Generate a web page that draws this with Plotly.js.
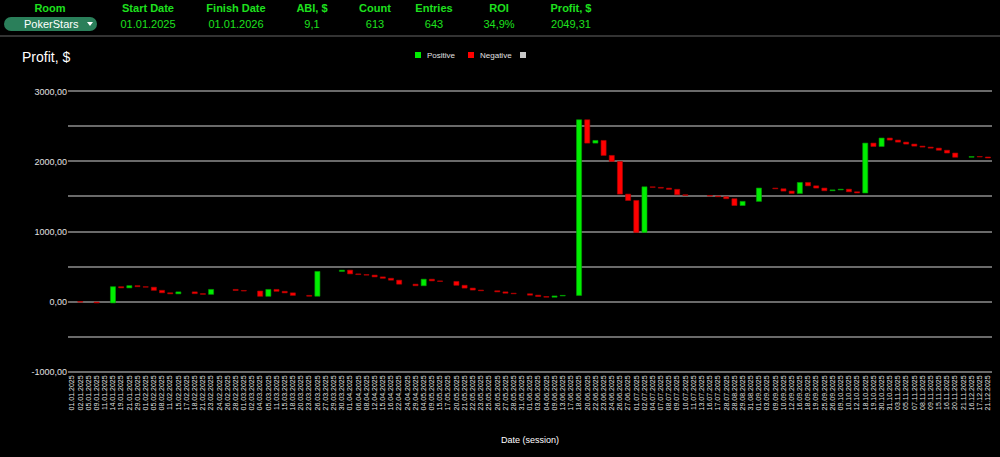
<!DOCTYPE html>
<html><head><meta charset="utf-8">
<script src="https://cdn.plot.ly/plotly-3.0.1.min.js"></script>
<style>
html,body{margin:0;padding:0;background:#000;width:1000px;height:457px;overflow:hidden;font-family:"Liberation Sans",Arial,sans-serif;}
#chart{position:absolute;left:0;top:0;width:1000px;height:457px;}
#hdr{position:absolute;left:0;top:0;width:1000px;height:35px;background:#000;border-bottom:2px solid #333;z-index:5;}
.c{position:absolute;transform:translateX(-50%);white-space:nowrap;color:#1ee01e;font-size:11px;}
.h{top:2px;font-weight:bold;}
.v{top:18px;}
#pill{position:absolute;left:4px;top:17px;width:93px;height:14px;border-radius:7px;background:#2a7f5a;color:#fff;font-size:11px;line-height:14px;}
#pill span{position:absolute;left:20px;top:0;}
#pill i{position:absolute;left:83px;top:5px;width:0;height:0;border-left:3px solid transparent;border-right:3px solid transparent;border-top:4px solid #fff;}
</style></head><body>
<div id="hdr"></div>
<div id="chart"></div>
<script>
// ---- header data ----
var headerLabels = ["Room", "Start Date", "Finish Date", "ABI, $", "Count", "Entries", "ROI", "Profit, $"];
var headerValues = ["PokerStars", "01.01.2025", "01.01.2026", "9,1", "613", "643", "34,9%", "2049,31"];

// ---- chart data ----
var sessionDates = [
"01.01.2025","02.01.2025","05.01.2025","09.01.2025","11.01.2025","14.01.2025","19.01.2025","21.01.2025","29.01.2025","01.02.2025",
"05.02.2025","08.02.2025","11.02.2025","15.02.2025","17.02.2025","18.02.2025","21.02.2025","23.02.2025","24.02.2025","26.02.2025",
"28.02.2025","01.03.2025","02.03.2025","04.03.2025","05.03.2025","11.03.2025","15.03.2025","18.03.2025","20.03.2025","23.03.2025",
"26.03.2025","27.03.2025","29.03.2025","30.03.2025","01.04.2025","06.04.2025","08.04.2025","12.04.2025","15.04.2025","16.04.2025",
"22.04.2025","24.04.2025","29.04.2025","04.05.2025","09.05.2025","15.05.2025","17.05.2025","20.05.2025","21.05.2025","22.05.2025",
"23.05.2025","25.05.2025","26.05.2025","27.05.2025","28.05.2025","31.05.2025","01.06.2025","03.06.2025","04.06.2025","09.06.2025",
"13.06.2025","17.06.2025","18.06.2025","20.06.2025","22.06.2025","23.06.2025","24.06.2025","26.06.2025","27.06.2025","01.07.2025",
"02.07.2025","04.07.2025","07.07.2025","08.07.2025","09.07.2025","10.07.2025","11.07.2025","13.07.2025","16.07.2025","17.07.2025",
"28.07.2025","28.08.2025","29.08.2025","31.08.2025","01.09.2025","03.09.2025","09.09.2025","10.09.2025","12.09.2025","16.09.2025",
"18.09.2025","19.09.2025","25.09.2025","26.09.2025","09.10.2025","10.10.2025","12.10.2025","18.10.2025","19.10.2025","30.10.2025",
"31.10.2025","03.11.2025","05.11.2025","07.11.2025","08.11.2025","09.11.2025","15.11.2025","16.11.2025","20.11.2025","21.11.2025",
"16.12.2025","17.12.2025","21.12.2025"
];
var sessionProfit = [
0,-8,0,-12,0,232,-17,32,-15,-7,
-45,-35,-15,28,0,-25,-10,70,0,0,
-15,-8,0,-75,98,-27,-22,-36,0,-12,
354,0,0,18,-53,-10,-8,-25,-20,-27,
-57,0,-22,93,-24,-8,0,-55,-40,-28,
-10,0,-16,-19,-8,0,-20,-19,-10,18,
8,0,2507,-333,38,-214,-86,-466,-91,-457,
652,-8,-11,-17,-77,-11,0,0,-8,-10,
-28,-97,59,0,190,0,-10,-33,-34,157,
-48,-32,-38,12,10,-37,-17,712,-48,120,
-29,-29,-28,-29,-14,-15,-30,-40,-60,0,
10,-6,-14.69
];
var yTickVals = [-1000,-500,0,500,1000,1500,2000,2500,3000];
var yTickText = ["-1000,00","","0,00","","1000,00","","2000,00","","3000,00"];
var legendNames = ["Positive","Negative",""];
var legendColors = ["#00ee00","#ff0000","#c8c8c8"];

// ---- header ----
var hdr = document.getElementById('hdr');
var colX = [50,148,236,312,375,434,499,571];
headerLabels.forEach(function(t,i){
  var d=document.createElement('div'); d.className='c h'; d.style.left=colX[i]+'px'; d.textContent=t; hdr.appendChild(d);
});
headerValues.forEach(function(t,i){
  if(i===0){
    var p=document.createElement('div'); p.id='pill';
    p.innerHTML='<span></span><i></i>'; p.firstChild.textContent=t; hdr.appendChild(p);
  } else {
    var d=document.createElement('div'); d.className='c v'; d.style.left=colX[i]+'px'; d.textContent=t; hdr.appendChild(d);
  }
});

// ---- chart ----
var ML=68, MR=8, MT=90, MB=84, W=1000, H=457;
var PW=W-ML-MR, PH=H-MT-MB;
function px(x){return (x-ML)/PW;}
function py(y){return (H-MB-y)/PH;}

var traces = [{
  type:'waterfall',
  x: sessionDates,
  y: sessionProfit,
  measure: sessionProfit.map(function(){return 'relative';}),
  increasing:{marker:{color:'#00ee00', line:{color:'#00a000', width:0.6}}},
  decreasing:{marker:{color:'#ff0000', line:{color:'#b00000', width:0.6}}},
  totals:{marker:{color:'#c8c8c8'}},
  connector:{visible:false},
  showlegend:false,
  textinfo:'none'
}];

// legend (drawn as shapes + text)
var legX = [415, 468, 520];
var shapes = [], annotations = [];
legendNames.forEach(function(n,i){
  shapes.push({type:'rect', xref:'paper', yref:'paper', x0:px(legX[i]), x1:px(legX[i]+6), y0:py(58), y1:py(52),
               fillcolor:legendColors[i], line:{width:0}, layer:'above'});
  if(n) annotations.push({xref:'paper', yref:'paper', x:px(legX[i]+10), y:py(55), xanchor:'left', yanchor:'middle',
               text:n, showarrow:false, font:{size:8, color:'#e0e0e0'}});
});

var layout = {
  width:W, height:H,
  paper_bgcolor:'#000', plot_bgcolor:'#000',
  margin:{l:ML, r:MR, t:MT, b:MB, pad:0},
  font:{family:'"Liberation Sans", Arial, sans-serif', color:'#e0e0e0'},
  title:{text:'Profit, $', x:0.022, xanchor:'left', xref:'container', y:0.875, yanchor:'middle', yref:'container',
         font:{size:14, color:'#ffffff'}},
  waterfallgap:0.38,
  showlegend:false,
  shapes:shapes,
  annotations:annotations,
  xaxis:{type:'category', tickmode:'linear', dtick:1, tick0:0, tickangle:-90, tickfont:{size:7, color:'#e0e0e0'}, showgrid:false,
         showline:false, ticks:'', automargin:false,
         title:{text:'Date (session)', font:{size:9, color:'#ffffff'}, standoff:27}},
  yaxis:{range:[-1020,3020], tickvals:yTickVals, ticktext:yTickText, tickfont:{size:9, color:'#e0e0e0'},
         showgrid:true, gridcolor:'#6a6a6a', gridwidth:2, zeroline:false, ticks:'', automargin:false, fixedrange:true}
};
Plotly.newPlot('chart', traces, layout, {displayModeBar:false, staticPlot:true});
</script>
</body></html>
